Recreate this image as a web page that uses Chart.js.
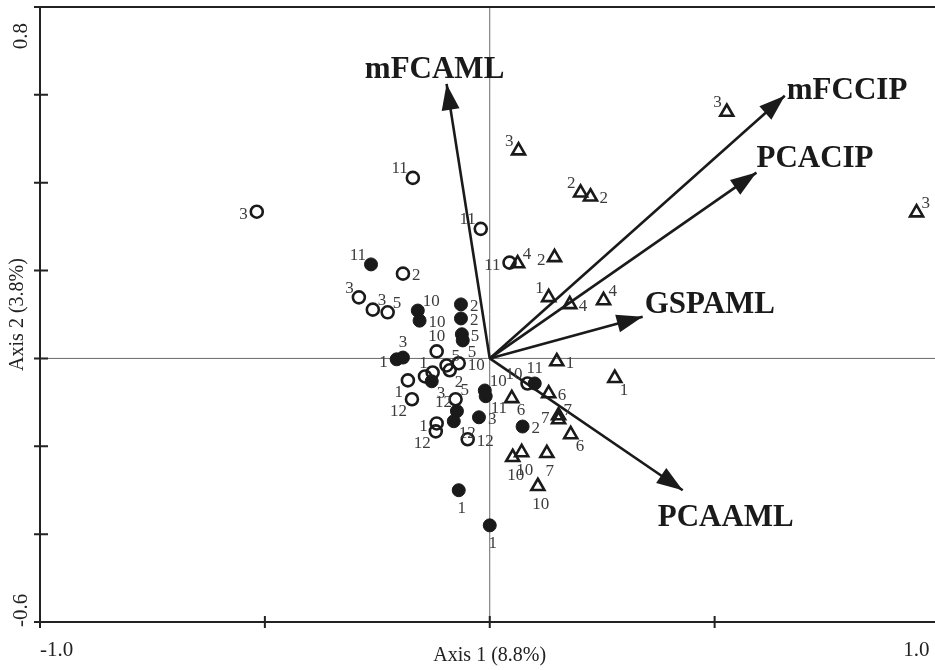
<!DOCTYPE html>
<html>
<head>
<meta charset="utf-8">
<script src="https://cdn.jsdelivr.net/npm/chart.js@4"></script>
<style>
html, body { margin: 0; padding: 0; overflow: hidden; background: #fff; width: 935px; height: 670px; }
#myChart { display: block; }
</style>
</head>
<body>
<canvas id="myChart" width="935" height="670"></canvas>
<script>
// open circles
const openX = [-0.518, -0.171, -0.020, -0.193, -0.291, -0.260, -0.227, -0.118, -0.069, -0.096, -0.089, -0.127, -0.144, -0.182, -0.173, -0.076, -0.118, -0.120, -0.049, 0.084, 0.044];
const openY = [0.334, 0.411, 0.295, 0.193, 0.139, 0.111, 0.105, 0.016, -0.011, -0.016, -0.027, -0.032, -0.041, -0.050, -0.093, -0.093, -0.148, -0.166, -0.184, -0.057, 0.218];
const openLbl = ['3', '11', '11', '2', '3', '3', '5', '10', '10', '5', '2', '1', '', '1', '12', '5', '1', '12', '12', '10', '11'];
// filled circles
const fillX = [-0.264, -0.160, -0.156, -0.064, -0.064, -0.062, -0.060, -0.207, -0.193, -0.129, -0.073, -0.080, -0.024, -0.011, -0.009, 0.100, 0.073, -0.069, 0.000];
const fillY = [0.214, 0.109, 0.086, 0.123, 0.091, 0.055, 0.041, -0.002, 0.002, -0.052, -0.120, -0.143, -0.134, -0.073, -0.086, -0.057, -0.155, -0.300, -0.380];
const fillLbl = ['11', '10', '10', '2', '2', '5', '5', '1', '3', '3', '12', '12', '3', '10', '11', '11', '2', '1', '1'];
// triangles
const triX = [0.064, 0.202, 0.224, 0.527, 0.949, 0.062, 0.144, 0.131, 0.178, 0.253, 0.149, 0.278, 0.049, 0.131, 0.153, 0.153, 0.180, 0.051, 0.071, 0.127, 0.107];
const triY = [0.473, 0.377, 0.368, 0.561, 0.332, 0.216, 0.230, 0.139, 0.123, 0.132, -0.007, -0.045, -0.091, -0.080, -0.130, -0.139, -0.173, -0.225, -0.214, -0.216, -0.291];
const triLbl = ['3', '2', '2', '3', '3', '4', '2', '1', '4', '4', '1', '1', '6', '6', '7', '7', '6', '10', '10', '7', '10'];
// biplot vectors
const arrowNames = ['mFCAML', 'mFCCIP', 'PCACIP', 'GSPAML', 'PCAAML'];
const arrowX = [-0.096, 0.656, 0.593, 0.340, 0.429];
const arrowY = [0.625, 0.598, 0.423, 0.095, -0.300];
// axes (the right end of axis 1 runs just past the picture edge)
const xMin = -1.0, xMax = 0.99, yMin = -0.6, yMax = 0.8;
const xTickMarks = [-1.0, -0.5, 0, 0.5];
const yTickMarks = [-0.6, -0.4, -0.2, 0, 0.2, 0.4, 0.6, 0.8];
const xTickLabels = ['-1.0', '1.0'];
const yTickLabels = ['-0.6', '0.8'];
const xTitle = 'Axis 1 (8.8%)';
const yTitle = 'Axis 2 (3.8%)';

// where each little number sits next to its marker
const openAt = ['l', 'ul', 'ul', 'r', 'ul', 'ur', 'ur', 'a', 'r', 'ur', 'lr', 'ul', '', 'll', 'll', 'ur', 'l', 'll', 'r', 'ul', 'l'];
const fillAt = ['ul', 'ur', 'r', 'r', 'r', 'r', 'lr', 'l', 'a', 'lr', 'ul', 'lr', 'r', 'ur', 'lr', 'a', 'r', 'b', 'b'];
const triAt = ['ul', 'ul', 'r', 'ul', 'ur', 'ur', 'l', 'ul', 'r', 'ur', 'r', 'lr', 'lr', 'r', 'l', 'ur', 'lr', 'b', 'b', 'b', 'b'];
const offs = {
    l: [-9, 3, 'right'], r: [9, 2, 'left'],
    ul: [-5, -9, 'right'], ur: [5, -9, 'left'],
    ll: [-5, 12, 'right'], lr: [5, 12, 'left'],
    a: [0, -15, 'center'], b: [3, 18, 'center']
};
// label offset from arrow tip [dx, dy, align]
const arrowLblOff = [[-12, -14, 'center'], [2, -5, 'left'], [0, -14, 'left'], [2, -12, 'left'], [-25, 28, 'left']];

const ink = '#1a1a1a';
const serif = '"Liberation Serif", "DejaVu Serif", serif';

function pts(xs, ys) {
    return xs.map((v, i) => ({x: v, y: ys[i]}));
}

const datasets = [
    {data: pts(openX, openY), pointStyle: 'circle', pointRadius: 6, borderWidth: 2.6,
        borderColor: ink, backgroundColor: 'rgba(0,0,0,0)'},
    {data: pts(fillX, fillY), pointStyle: 'circle', pointRadius: 6.5, borderWidth: 1,
        borderColor: ink, backgroundColor: ink},
    {data: pts(triX, triY), pointStyle: 'triangle', pointRadius: 7.5, borderWidth: 2.6,
        borderColor: ink, backgroundColor: 'rgba(0,0,0,0)'}
];
arrowNames.forEach((n, i) => {
    datasets.push({
        type: 'line', label: n, data: [{x: 0, y: 0}, {x: arrowX[i], y: arrowY[i]}],
        showLine: true, pointRadius: 0, borderWidth: 2.6, borderColor: ink, fill: false
    });
});

function numLabels(ctx, x, y, xs, ys, lbls, at) {
    xs.forEach((v, i) => {
        if (!lbls[i]) return;
        const o = offs[at[i]];
        ctx.textAlign = o[2];
        ctx.fillText(lbls[i], x.getPixelForValue(v) + o[0], y.getPixelForValue(ys[i]) + o[1]);
    });
}

const decor = {
    id: 'decor',
    beforeDatasetsDraw(chart) {
        const {ctx, chartArea: a, scales: {x, y}} = chart;
        ctx.save();
        ctx.strokeStyle = '#6a6a6a';
        ctx.lineWidth = 1;
        ctx.beginPath();
        ctx.moveTo(a.left, y.getPixelForValue(0));
        ctx.lineTo(a.right, y.getPixelForValue(0));
        ctx.moveTo(x.getPixelForValue(0), a.top);
        ctx.lineTo(x.getPixelForValue(0), a.bottom);
        ctx.stroke();
        ctx.restore();
    },
    afterDatasetsDraw(chart) {
        const {ctx, chartArea: a, scales: {x, y}} = chart;
        ctx.save();
        // arrow heads
        ctx.fillStyle = ink;
        arrowX.forEach((v, i) => {
            const tx = x.getPixelForValue(v), ty = y.getPixelForValue(arrowY[i]);
            const ox = x.getPixelForValue(0), oy = y.getPixelForValue(0);
            const ang = Math.atan2(ty - oy, tx - ox);
            const len = 26, hw = 9;
            const bx = tx - Math.cos(ang) * len, by = ty - Math.sin(ang) * len;
            ctx.beginPath();
            ctx.moveTo(tx, ty);
            ctx.lineTo(bx - Math.sin(ang) * hw, by + Math.cos(ang) * hw);
            ctx.lineTo(bx + Math.sin(ang) * hw, by - Math.cos(ang) * hw);
            ctx.closePath();
            ctx.fill();
        });
        // arrow names
        ctx.font = 'bold 31px ' + serif;
        ctx.textBaseline = 'middle';
        arrowNames.forEach((n, i) => {
            const o = arrowLblOff[i];
            ctx.textAlign = o[2];
            ctx.fillText(n, x.getPixelForValue(arrowX[i]) + o[0], y.getPixelForValue(arrowY[i]) + o[1]);
        });
        // point numbers
        ctx.font = '17px ' + serif;
        ctx.fillStyle = '#3c3c3c';
        numLabels(ctx, x, y, openX, openY, openLbl, openAt);
        numLabels(ctx, x, y, fillX, fillY, fillLbl, fillAt);
        numLabels(ctx, x, y, triX, triY, triLbl, triAt);

        // frame: left, top, bottom (right edge lies outside the picture)
        ctx.strokeStyle = '#222';
        ctx.lineWidth = 2;
        ctx.beginPath();
        ctx.moveTo(a.right + 6, a.top);
        ctx.lineTo(a.left, a.top);
        ctx.lineTo(a.left, a.bottom);
        ctx.lineTo(a.right + 6, a.bottom);
        xTickMarks.forEach(v => {
            const px = x.getPixelForValue(v);
            ctx.moveTo(px, a.bottom - 6);
            ctx.lineTo(px, a.bottom + 6);
        });
        yTickMarks.forEach(v => {
            const py = y.getPixelForValue(v);
            ctx.moveTo(a.left - 6, py);
            ctx.lineTo(a.left + 8, py);
        });
        ctx.stroke();

        // tick labels
        ctx.fillStyle = '#222';
        ctx.font = '21px ' + serif;
        ctx.textBaseline = 'middle';
        ctx.textAlign = 'left';
        ctx.fillText(xTickLabels[0], x.getPixelForValue(-1.0), a.bottom + 28);
        ctx.textAlign = 'right';
        ctx.fillText(xTickLabels[1], x.getPixelForValue(1.0) - 10, a.bottom + 28);

        ctx.save();
        ctx.translate(21, y.getPixelForValue(-0.6) + 5);
        ctx.rotate(-Math.PI / 2);
        ctx.textAlign = 'left';
        ctx.fillText(yTickLabels[0], 0, 0);
        ctx.restore();
        ctx.save();
        ctx.translate(21, y.getPixelForValue(0.8) + 16);
        ctx.rotate(-Math.PI / 2);
        ctx.textAlign = 'right';
        ctx.fillText(yTickLabels[1], 0, 0);
        ctx.restore();

        // axis titles
        ctx.font = '20px ' + serif;
        ctx.textAlign = 'center';
        ctx.fillText(xTitle, x.getPixelForValue(0), a.bottom + 34);
        ctx.save();
        ctx.translate(18, (a.top + a.bottom) / 2);
        ctx.rotate(-Math.PI / 2);
        ctx.fillText(yTitle, 0, 0);
        ctx.restore();
        ctx.restore();
    }
};

const ctx = document.getElementById('myChart');
new Chart(ctx, {
    type: 'scatter',
    data: {datasets: datasets},
    options: {
        responsive: false,
        animation: false,
        devicePixelRatio: 1,
        layout: {autoPadding: false, padding: {top: 7, right: 0, left: 0, bottom: 0}},
        plugins: {legend: {display: false}, tooltip: {enabled: false}},
        scales: {
            x: {
                type: 'linear', min: xMin, max: xMax,
                grid: {display: false}, border: {display: false}, ticks: {display: false},
                afterFit: function (s) { s.height = 48; }
            },
            y: {
                type: 'linear', min: yMin, max: yMax,
                grid: {display: false}, border: {display: false}, ticks: {display: false},
                afterFit: function (s) { s.width = 40; }
            }
        }
    },
    plugins: [decor]
});
</script>
</body>
</html>
